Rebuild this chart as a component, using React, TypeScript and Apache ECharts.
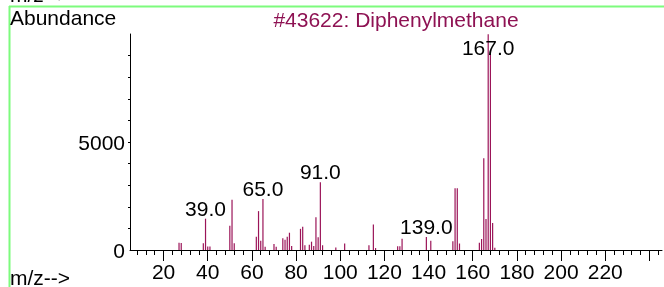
import React, { useEffect, useRef } from "react";
import * as echarts from "echarts";

const mz = [27, 28, 38, 39, 40, 41, 50, 51, 52, 62, 63, 64, 65, 66, 70, 71, 74, 75, 76, 77, 78, 82, 83, 84, 86, 87, 88, 89, 90, 91, 92, 98, 102, 113, 115, 116, 126, 127, 128, 139, 141, 151, 152, 153, 154, 163, 164, 165, 166, 167, 168, 169, 170];
const abundance = [340, 320, 310, 1450, 160, 160, 1120, 2330, 310, 615, 1800, 430, 2360, 150, 280, 150, 540, 480, 615, 800, 185, 980, 1080, 220, 245, 385, 185, 1520, 585, 3140, 220, 110, 300, 215, 1185, 90, 170, 170, 520, 600, 430, 400, 2860, 2860, 300, 340, 510, 4250, 1430, 9990, 9100, 1250, 100];
const labeledPeaks = [39, 65, 91, 139, 167];

const xLabelValues = [20, 40, 60, 80, 100, 120, 140, 160, 180, 200, 220];
const xMajorTicks = [20, 40, 60, 80, 100, 120, 140, 160, 180, 200, 220, 240];
const xMinorTicks = [8, 12, 16, 24, 28, 32, 36, 44, 48, 52, 56, 64, 68, 72, 76, 84, 88, 92, 96, 104, 108, 112, 116, 124, 128, 132, 136, 144, 148, 152, 156, 164, 168, 172, 176, 184, 188, 192, 196, 204, 208, 212, 216, 224, 228, 232, 236, 244];
const yLabelValues = [0, 5000];
const yTicks = [1000, 2000, 3000, 4000, 5000, 6000, 7000, 8000, 9000];

const titleText = "#43622: Diphenylmethane";
const FONT = "'Liberation Sans', Arial, sans-serif";
const BAR = "#9b1458";
const FS = 21;

export default function App() {
  const ref = useRef<HTMLDivElement>(null);
  useEffect(() => {
    if (!ref.current) return;
    const chart = echarts.init(ref.current, undefined, { renderer: "svg" });
    const data = mz.map((m, i) => {
      const item: any = { value: [m, abundance[i]] };
      if (labeledPeaks.includes(m)) {
        item.label = {
          show: true,
          position: "top",
          distance: 0,
          formatter: m.toFixed(1),
          offset: m === 167 ? [0, 24] : [0, 0],
        };
      }
      return item;
    });
    chart.setOption({
      animation: false,
      grid: { left: 130, right: 2, top: 34, bottom: 37, containLabel: false },
      xAxis: [
        {
          type: "value",
          min: 4.8,
          max: 245.7,
          axisLine: { show: true, lineStyle: { color: "#000", width: 1 } },
          axisTick: { show: true, customValues: xMinorTicks, length: 5, lineStyle: { color: "#000" } },
          axisLabel: { show: false },
          splitLine: { show: false },
        },
        {
          type: "value",
          position: "bottom",
          min: 4.8,
          max: 245.7,
          axisLine: { show: false },
          axisTick: { show: true, customValues: xMajorTicks, length: 11, lineStyle: { color: "#000" } },
          axisLabel: {
            show: true,
            customValues: xLabelValues,
            fontSize: FS,
            fontFamily: FONT,
            color: "#000",
            margin: 11,
          },
          splitLine: { show: false },
        },
      ],
      yAxis: {
        type: "value",
        min: 0,
        max: 10000,
        axisLine: { show: true, lineStyle: { color: "#000", width: 1 } },
        axisTick: { show: true, customValues: yTicks, length: 2, lineStyle: { color: "#000" } },
        axisLabel: {
          show: true,
          customValues: yLabelValues,
          formatter: (v: number) => String(v),
          fontSize: FS,
          fontFamily: FONT,
          color: "#000",
          margin: 5,
        },
        splitLine: { show: false },
      },
      series: [
        {
          type: "bar",
          xAxisIndex: 0,
          barWidth: 1.2,
          itemStyle: { color: BAR },
          label: { fontSize: FS, fontFamily: FONT, color: "#000" },
          data,
        },
      ],
      graphic: [
        { type: "line", shape: { x1: 9, y1: 6.5, x2: 664, y2: 6.5 }, style: { stroke: "#7dfb7d", lineWidth: 2 } },
        { type: "line", shape: { x1: 9.5, y1: 6, x2: 9.5, y2: 287 }, style: { stroke: "#7dfb7d", lineWidth: 2 } },
        { type: "text", x: 10, y: -16, style: { text: "m/z-->", fontSize: FS, fontFamily: FONT, fill: "#000", textAlign: "left", textVerticalAlign: "top" } },
        { type: "text", x: 10, y: 7, style: { text: "Abundance", fontSize: FS, fontFamily: FONT, fill: "#000", textAlign: "left", textVerticalAlign: "top" } },
        { type: "text", x: 396, y: 9, style: { text: titleText, fontSize: FS, fontFamily: FONT, fill: "#8e1253", textAlign: "center", textVerticalAlign: "top" } },
        { type: "text", x: 10, y: 267, style: { text: "m/z-->", fontSize: FS, fontFamily: FONT, fill: "#000", textAlign: "left", textVerticalAlign: "top" } },
      ],
    });
    return () => chart.dispose();
  }, []);
  return <div ref={ref} style={{ position: "fixed", left: 0, top: 0, width: 664, height: 287 }} />;
}
